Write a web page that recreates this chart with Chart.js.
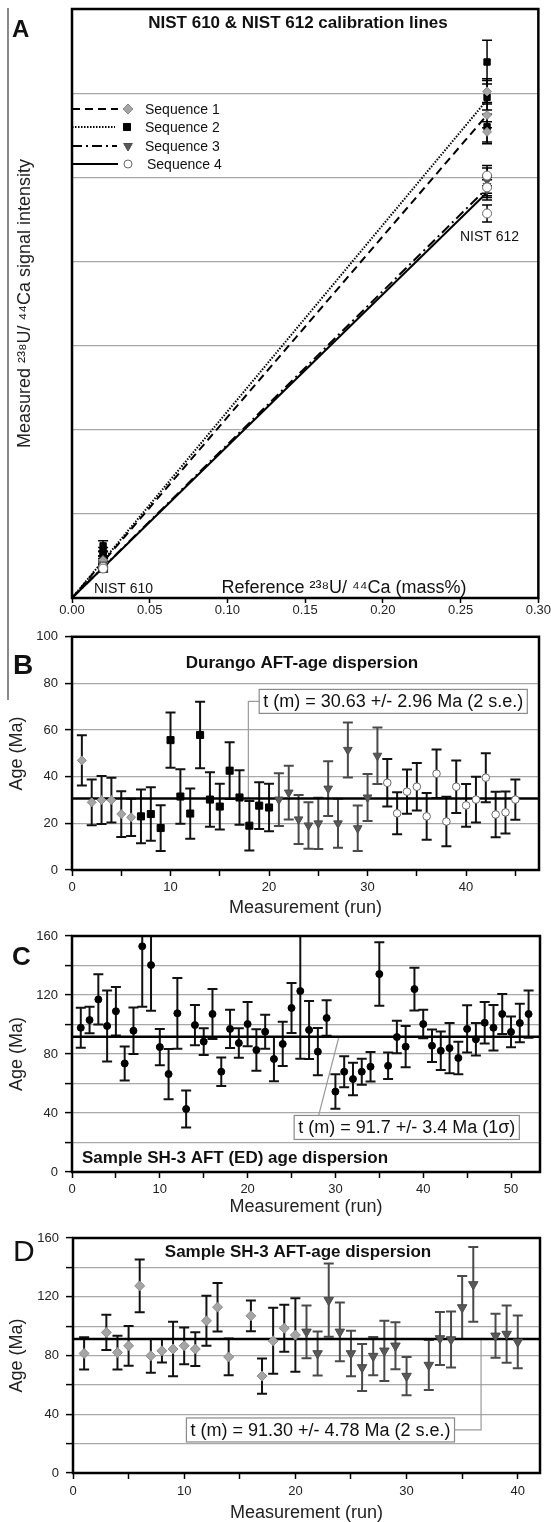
<!DOCTYPE html>
<html>
<head>
<meta charset="utf-8">
<title>NIST calibration and AFT age dispersion</title>
<script src="https://cdn.jsdelivr.net/npm/chart.js@4.4.1/dist/chart.umd.min.js"></script>
<style>
  body { margin: 0; background: #fff; font-family: "Liberation Sans", Arial, sans-serif; }
  #page { position: relative; width: 551px; height: 1522px; overflow: hidden; }
  #page canvas { position: absolute; left: 0; }
  .tag { position: absolute; line-height: 1; color: #111; }
  #rule { position: absolute; left: 7px; top: 8px; width: 2px; height: 692px; background: #8a8a8a; }
</style>
</head>
<body>
<div id="page">
  <div id="rule"></div>
  <canvas id="chartA" width="551" height="622" style="top:0"></canvas>
  <canvas id="chartB" width="551" height="295" style="top:622px"></canvas>
  <canvas id="chartC" width="551" height="299" style="top:917px"></canvas>
  <canvas id="chartD" width="551" height="306" style="top:1216px"></canvas>
  <div class="tag" style="left:12px;top:17px;font-size:24px;font-weight:bold">A</div>
  <div class="tag" style="left:13px;top:651px;font-size:28px;font-weight:bold">B</div>
  <div class="tag" style="left:12px;top:943px;font-size:26px;font-weight:bold">C</div>
  <div class="tag" style="left:13px;top:1236px;font-size:30px">D</div>
</div>
<script>
const FONT = '"Liberation Sans", Arial, Helvetica, sans-serif';
Chart.defaults.font.family = FONT;
Chart.defaults.color = '#222';
Chart.defaults.animation = false;

// ---------- A: NIST 610 & 612 calibration lines ----------
const nistRef = [0.02, 0.267];          // reference 238U/44Ca (mass%) of NIST 610, NIST 612
const seq1At610 = [0.45, 0.42];          const seq1Err610 = [0.05, 0.05];
const seq1At612 = [6.02, 5.74, 5.54];    const seq1Err612 = [0.15, 0.15, 0.12];
const seq2At610 = [0.62, 0.55, 0.50];    const seq2Err610 = [0.06, 0.05, 0.05];
const seq2At612 = [6.37, 5.95, 5.60];    const seq2Err612 = [0.26, 0.2, 0.2];
const seq3At610 = [0.40, 0.38];          const seq3Err610 = [0.04, 0.04];
const seq3At612 = [4.96, 4.90, 4.85];    const seq3Err612 = [0.15, 0.12, 0.12];
const seq4At610 = [0.37, 0.35];          const seq4Err610 = [0.04, 0.04];
const seq4At612 = [5.02, 4.88, 4.57];    const seq4Err612 = [0.12, 0.12, 0.1];
const fitAt612 = [5.74, 5.92, 4.87, 4.82];   // calibration line value at NIST 612, sequence 1-4

// ---------- B: Durango ----------
const durRuns1 = [1, 2, 3, 4, 5, 6];
const durAge1  = [47, 29, 30, 30, 24, 22.6];
const durErr1  = [10.8, 9.8, 10.3, 9.6, 9.8, 8];
const durRuns2 = [7, 8, 9, 10, 11, 12, 13, 14, 15, 16, 17, 18, 19, 20];
const durAge2  = [23, 24, 18, 55.7, 31.5, 24.2, 57.9, 30.2, 27.2, 42.6, 31.1, 19, 27.6, 26.8];
const durErr2  = [11.5, 11.5, 9.8, 11.8, 11.7, 10.8, 14.3, 11.7, 9.8, 12.2, 11.7, 10.6, 10, 10.2];
const durRuns3 = [21, 22, 23, 24, 25, 26, 27, 28, 29, 30, 31];
const durAge3  = [30.2, 33.2, 21.7, 19.1, 20, 34.9, 20, 51.5, 17.9, 31.1, 49];
const durErr3  = [11.3, 11.5, 10.5, 10, 11, 11.7, 10.5, 11.8, 9.8, 10.1, 12.1];
const durRuns4 = [32, 33, 34, 35, 36, 37, 38, 39, 40, 41, 42, 43, 44, 45];
const durAge4  = [37.4, 24.3, 33.6, 35.7, 23, 41.3, 20.8, 35.7, 27.7, 30.2, 39.6, 23.8, 24.7, 30.2];
const durErr4  = [10.2, 9, 9.5, 10.2, 10, 10.4, 10.6, 11.3, 9.2, 9.8, 10.5, 9.8, 9, 8.6];
const durMean = 30.63;

// ---------- C: SH-3 (ED) ----------
const edRuns = [1, 2, 3, 4, 5, 6, 7, 8, 9, 10, 11, 12, 13, 14, 15, 16, 17, 18, 19, 20, 21, 22, 23, 24, 25, 26,
                27, 28, 29, 30, 31, 32, 33, 34, 35, 36, 37, 38, 39, 40, 41, 42, 43, 44, 45, 46, 47, 48, 49, 50, 51, 52];
const edAge = [97.8, 103, 117, 99, 109, 73.6, 95.8, 153, 140.3, 84.7, 66.4, 107.6, 42.7, 99.6, 88.4, 107.1, 68, 97, 87.4, 100.3,
               82.7, 95.1, 76.6, 86.8, 111.2, 122.7, 96.3, 81.6, 104.4, 54.5, 68, 63, 68, 71.4, 134.2, 72, 91.5, 85, 124, 100.3,
               85.6, 82.2, 84, 77.3, 97, 90, 101.2, 97.8, 107.1, 95, 101, 107.1];
const edErr = [13.5, 9, 17, 24, 16.5, 11.5, 15.8, 41, 31, 12.3, 17, 24, 12.5, 13.7, 9, 17, 9.7, 13, 10, 15,
               14, 11.5, 15, 15, 17, 46, 19.7, 16, 12, 11.7, 10.5, 11, 8.8, 10, 21.5, 9, 11, 14, 14.5, 9.7,
               11, 13, 17, 11, 16, 11, 14, 15.5, 13.5, 10.5, 13, 16];
const edMean = 91.7;

// ---------- D: SH-3 ----------
const sh3Runs1 = [1, 3, 4, 5, 6, 7, 8, 9, 10, 11, 12, 13, 14, 16, 17, 18, 19, 20];
const sh3Age1  = [81.4, 95.7, 82, 86.6, 127.4, 79.8, 83.2, 84.4, 86.6, 84.4, 103.6, 112.9, 79, 107, 66, 90, 98.6, 93.9];
const sh3Err1  = [11, 12, 11.5, 13.5, 18, 11.5, 8, 18.5, 12.5, 11.5, 17, 16.5, 12.5, 10.5, 12, 22.5, 16, 25];
const sh3Runs3 = [21, 22, 23, 24, 25, 26, 27, 28, 29, 30, 32, 33, 34, 35, 36, 38, 39, 40];
const sh3Age3  = [96.1, 81.4, 117.7, 96.1, 81.4, 71.9, 79.6, 83.2, 86.6, 66, 73.5, 91.6, 90.9, 112.7, 128.4, 93.4, 94.6, 89.3];
const sh3Err3  = [18, 15, 25, 20, 15.5, 16, 13, 20.5, 16, 13, 17, 18, 19, 21.5, 25.5, 15, 19.5, 18];
const sh3Mean = 91.3;

// marker looks
const MARK = {
  diamond:  {pointStyle: 'rectRot', pointRadius: 5, pointBackgroundColor: '#a5a5a5', pointBorderColor: '#8c8c8c', pointBorderWidth: 1},
  square:   {pointStyle: 'rect', pointRadius: 5, pointBackgroundColor: '#000', pointBorderColor: '#000', pointBorderWidth: 1},
  triangle: {pointStyle: 'triangle', pointRotation: 180, pointRadius: 5, pointBackgroundColor: '#585858', pointBorderColor: '#4a4a4a', pointBorderWidth: 1},
  circle:   {pointStyle: 'circle', pointRadius: 4, pointBackgroundColor: '#fff', pointBorderColor: '#666', pointBorderWidth: 1},
  dot:      {pointStyle: 'circle', pointRadius: 3.5, pointBackgroundColor: '#000', pointBorderColor: '#000', pointBorderWidth: 1}
};

function pts(xs, ys) { return xs.map((x, i) => ({x: x, y: ys[i]})); }

function series(label, xs, ys, errs, mark, errColor, extra) {
  return Object.assign({label: label, data: pts(xs, ys), errors: errs, errColor: errColor || '#000',
    showLine: false}, MARK[mark], extra || {});
}

function meanLine(value, max) {
  return {label: 'mean', data: [{x: 0, y: value}, {x: max, y: value}], showLine: true,
    borderColor: '#000', borderWidth: 2.5, pointRadius: 0};
}

function nistSeries(label, at610, err610, at612, err612, mark) {
  const xs = at610.map(() => nistRef[0]).concat(at612.map(() => nistRef[1]));
  return series(label, xs, at610.concat(at612), err610.concat(err612), mark, '#000',
    {pointRadius: 4.5, errWidth: 1.5, capHalf: 5});
}

function fitLine(i, dash) {
  return {label: 'fit' + (i + 1), data: [{x: 0, y: 0}, {x: nistRef[1], y: fitAt612[i]}], showLine: true,
    borderColor: '#000', borderWidth: 2, borderDash: dash, pointRadius: 0};
}

function drawMark(ctx, kind, x, y, r) {
  const m = MARK[kind];
  ctx.save();
  ctx.fillStyle = m.pointBackgroundColor; ctx.strokeStyle = m.pointBorderColor; ctx.lineWidth = 1;
  ctx.beginPath();
  if (kind === 'diamond') { ctx.moveTo(x, y - r); ctx.lineTo(x + r, y); ctx.lineTo(x, y + r); ctx.lineTo(x - r, y); ctx.closePath(); }
  else if (kind === 'square') { const s = r * Math.SQRT1_2; ctx.rect(x - s, y - s, 2 * s, 2 * s); }
  else if (kind === 'triangle') { ctx.moveTo(x, y + r); ctx.lineTo(x + r * 0.866, y - r / 2); ctx.lineTo(x - r * 0.866, y - r / 2); ctx.closePath(); }
  else { ctx.arc(x, y, r, 0, Math.PI * 2); }
  ctx.fill(); ctx.stroke();
  ctx.restore();
}

const extras = {
  id: 'extras',
  beforeDatasetsDraw(chart, args, o) {
    const {ctx, chartArea: a, scales: {x, y}} = chart;
    ctx.save();
    ctx.beginPath(); ctx.rect(a.left, a.top, a.right - a.left, a.bottom - a.top); ctx.clip();
    // leader lines
    (o.leaders || []).forEach(path => {
      ctx.strokeStyle = '#9a9a9a'; ctx.lineWidth = 1.2; ctx.setLineDash([]);
      ctx.beginPath();
      path.forEach((p, i) => {
        const px = x.getPixelForValue(p[0]), py = y.getPixelForValue(p[1]);
        if (i) ctx.lineTo(px, py); else ctx.moveTo(px, py);
      });
      ctx.stroke();
    });
    // error bars
    chart.data.datasets.forEach(ds => {
      if (!ds.errors) return;
      ctx.strokeStyle = ds.errColor; ctx.lineWidth = ds.errWidth || 2;
      const cap = ds.capHalf || 5;
      ds.data.forEach((p, i) => {
        const px = x.getPixelForValue(p.x);
        const hi = y.getPixelForValue(p.y + ds.errors[i]);
        const lo = y.getPixelForValue(p.y - ds.errors[i]);
        ctx.beginPath();
        ctx.moveTo(px, hi); ctx.lineTo(px, lo);
        ctx.moveTo(px - cap, hi); ctx.lineTo(px + cap, hi);
        ctx.moveTo(px - cap, lo); ctx.lineTo(px + cap, lo);
        ctx.stroke();
      });
    });
    ctx.restore();
  },
  afterDraw(chart, args, o) {
    const {ctx, chartArea: a, scales: {x, y}} = chart;
    ctx.save();
    (o.boxes || []).forEach(b => {
      ctx.font = '18px ' + FONT;
      const w = ctx.measureText(b.text).width + 8, h = 24;
      const bx = x.getPixelForValue(b.x), by = y.getPixelForValue(b.y);
      ctx.fillStyle = '#fff'; ctx.fillRect(bx, by - h / 2, w, h);
      ctx.strokeStyle = '#8a8a8a'; ctx.lineWidth = 1.2; ctx.strokeRect(bx, by - h / 2, w, h);
      ctx.fillStyle = '#111'; ctx.textAlign = 'left'; ctx.textBaseline = 'middle';
      ctx.fillText(b.text, bx + 4, by + 1);
    });
    (o.texts || []).forEach(t => {
      ctx.font = t.font + ' ' + FONT;
      ctx.fillStyle = '#111'; ctx.textAlign = t.align || 'left'; ctx.textBaseline = 'middle';
      ctx.fillText(t.text, t.x, t.y);
    });
    (o.legend || []).forEach(l => {
      ctx.strokeStyle = '#000'; ctx.lineWidth = 2; ctx.setLineDash(l.dash);
      ctx.beginPath(); ctx.moveTo(a.left, l.y); ctx.lineTo(l.lineEnd, l.y); ctx.stroke();
      ctx.setLineDash([]);
      drawMark(ctx, l.mark, l.markX, l.y, l.r);
      ctx.font = '14px ' + FONT; ctx.fillStyle = '#111'; ctx.textAlign = 'left'; ctx.textBaseline = 'middle';
      ctx.fillText(l.text, l.textX, l.y + 1);
    });
    ctx.strokeStyle = '#000'; ctx.lineWidth = 2.5; ctx.setLineDash([]);
    ctx.strokeRect(a.left, a.top, a.right - a.left, a.bottom - a.top);
    ctx.restore();
  }
};

function xAxis(max, height, pad, title) {
  return {
    type: 'linear', min: 0, max: max,
    afterFit: s => { s.height = height; },
    ticks: {stepSize: 5, includeBounds: false, autoSkip: false, maxRotation: 0, padding: pad,
      font: {size: 13}, color: '#222', callback: v => (v % 10 === 0 ? v : '')},
    grid: {drawOnChartArea: false, tickColor: '#000', tickLength: 6, tickWidth: 1.5},
    border: {display: false},
    title: {display: !!title, text: title, font: {size: 18, lineHeight: 1}, padding: 0, color: '#222'}
  };
}

function yAxis(max, labelEvery, width) {
  return {
    min: 0, max: max,
    afterFit: s => { s.width = width; },
    ticks: {stepSize: 20, autoSkip: false, padding: 7, font: {size: 13}, color: '#222',
      callback: v => (v % labelEvery === 0 ? v : '')},
    grid: {color: '#a8a8a8', lineWidth: 1.2, tickColor: '#000', tickLength: 7, tickWidth: 1.5},
    border: {display: false},
    title: {display: true, text: 'Age (Ma)', font: {size: 18, lineHeight: 1}, padding: {top: 8, bottom: 0}, color: '#222'}
  };
}

function baseOptions(padTop, padRight) {
  return {
    responsive: false, animation: false, events: [],
    layout: {padding: {top: padTop, right: padRight, bottom: 0, left: 0}},
    plugins: {legend: {display: false}, tooltip: {enabled: false}}
  };
}

// ----- A -----
const optA = baseOptions(9, 12);
optA.scales = {
  x: {type: 'linear', min: 0, max: 0.3,
    afterFit: s => { s.height = 24; },
    ticks: {stepSize: 0.05, autoSkip: false, maxRotation: 0, padding: 0, font: {size: 13}, color: '#222',
      callback: v => v.toFixed(2)},
    grid: {drawOnChartArea: false, tickColor: '#000', tickLength: 5, tickWidth: 1.5},
    border: {display: false}},
  y: {min: 0, max: 7,
    afterFit: s => { s.width = 72; },
    ticks: {display: false, stepSize: 1},
    grid: {color: '#a8a8a8', lineWidth: 1.2, drawTicks: false},
    border: {display: false},
    title: {display: true, text: 'Measured \u00B2\u00B3\u2078U/ \u2074\u2074Ca signal intensity',
      font: {size: 18, lineHeight: 1}, padding: {top: 16, bottom: 0}, color: '#222'}}
};
optA.plugins.extras = {
  texts: [
    {text: 'NIST 610 & NIST 612 calibration lines', x: 298, y: 23, font: 'bold 17px', align: 'center'},
    {text: 'NIST 612', x: 460, y: 237, font: '14px'},
    {text: 'NIST 610', x: 94, y: 589, font: '14px'},
    {text: 'Reference \u00B2\u00B3\u2078U/ \u2074\u2074Ca (mass%)', x: 344, y: 588, font: '18px', align: 'center'}
  ],
  legend: [
    {text: 'Sequence 1', y: 109, dash: [8, 5], lineEnd: 118, mark: 'diamond', markX: 128, r: 5, textX: 145},
    {text: 'Sequence 2', y: 127, dash: [1.5, 1.5], lineEnd: 115, mark: 'square', markX: 127, r: 5, textX: 145},
    {text: 'Sequence 3', y: 146, dash: [10, 4, 2, 4], lineEnd: 117, mark: 'triangle', markX: 128, r: 5, textX: 145},
    {text: 'Sequence 4', y: 164, dash: [], lineEnd: 118, mark: 'circle', markX: 128, r: 4, textX: 147}
  ]
};
new Chart(document.getElementById('chartA'), {
  type: 'scatter',
  data: {datasets: [
    nistSeries('Sequence 4', seq4At610, seq4Err610, seq4At612, seq4Err612, 'circle'),
    nistSeries('Sequence 3', seq3At610, seq3Err610, seq3At612, seq3Err612, 'triangle'),
    nistSeries('Sequence 1', seq1At610, seq1Err610, seq1At612, seq1Err612, 'diamond'),
    nistSeries('Sequence 2', seq2At610, seq2Err610, seq2At612, seq2Err612, 'square'),
    fitLine(0, [8, 5]),
    fitLine(1, [1.5, 1.5]),
    fitLine(2, [10, 4, 2, 4]),
    fitLine(3, [])
  ]},
  options: optA,
  plugins: [extras]
});

// ----- B -----
const optB = baseOptions(13, 12);
optB.scales = {x: xAxis(47.4, 47, 4, 'Measurement (run)'), y: yAxis(100, 20, 72)};
optB.plugins.extras = {
  texts: [{text: 'Durango AFT-age dispersion', x: 302, y: 41, font: 'bold 17px', align: 'center'}],
  boxes: [{text: 't (m) = 30.63 +/- 2.96 Ma (2 s.e.)', x: 19.0, y: 72.3}],
  leaders: [[[19.5, 72.3], [17.9, 72.3], [17.9, durMean]]]
};
new Chart(document.getElementById('chartB'), {
  type: 'scatter',
  data: {datasets: [
    series('Sequence 1', durRuns1, durAge1, durErr1, 'diamond', '#111', {pointRadius: 4.5}),
    series('Sequence 2', durRuns2, durAge2, durErr2, 'square', '#111'),
    series('Sequence 3', durRuns3, durAge3, durErr3, 'triangle', '#4a4a4a'),
    series('Sequence 4', durRuns4, durAge4, durErr4, 'circle', '#111', {pointRadius: 3.8}),
    meanLine(durMean, 47.4)
  ]},
  options: optB,
  plugins: [extras]
});

// ----- C -----
const optC = baseOptions(19, 11);
optC.scales = {x: xAxis(53.3, 44, 4, 'Measurement (run)'), y: yAxis(160, 40, 72)};
optC.plugins.extras = {
  texts: [{text: 'Sample SH-3 AFT (ED) age dispersion', x: 82, y: 241, font: 'bold 17px'}],
  boxes: [{text: 't (m) = 91.7 +/- 3.4 Ma (1\u03C3)', x: 25.3, y: 30.2}],
  leaders: [[[27.9, 34], [30.4, edMean]]]
};
new Chart(document.getElementById('chartC'), {
  type: 'scatter',
  data: {datasets: [
    series('SH-3 ED', edRuns, edAge, edErr, 'dot', '#111'),
    meanLine(edMean, 53.3)
  ]},
  options: optC,
  plugins: [extras]
});

// ----- D -----
const optD = baseOptions(22, 11);
optD.scales = {x: xAxis(42, 49, 5, 'Measurement (run)'), y: yAxis(160, 40, 73)};
optD.plugins.extras = {
  texts: [{text: 'Sample SH-3 AFT-age dispersion', x: 298, y: 36, font: 'bold 17px', align: 'center'}],
  boxes: [{text: 't (m) = 91.30 +/- 4.78 Ma (2 s.e.)', x: 10.2, y: 29.3}],
  leaders: [[[30, 29.3], [36.7, 29.3], [36.7, sh3Mean]]]
};
new Chart(document.getElementById('chartD'), {
  type: 'scatter',
  data: {datasets: [
    series('Sequence 1', sh3Runs1, sh3Age1, sh3Err1, 'diamond', '#111'),
    series('Sequence 3', sh3Runs3, sh3Age3, sh3Err3, 'triangle', '#4a4a4a', {pointRadius: 5.5}),
    meanLine(sh3Mean, 42)
  ]},
  options: optD,
  plugins: [extras]
});
</script>
</body>
</html>
